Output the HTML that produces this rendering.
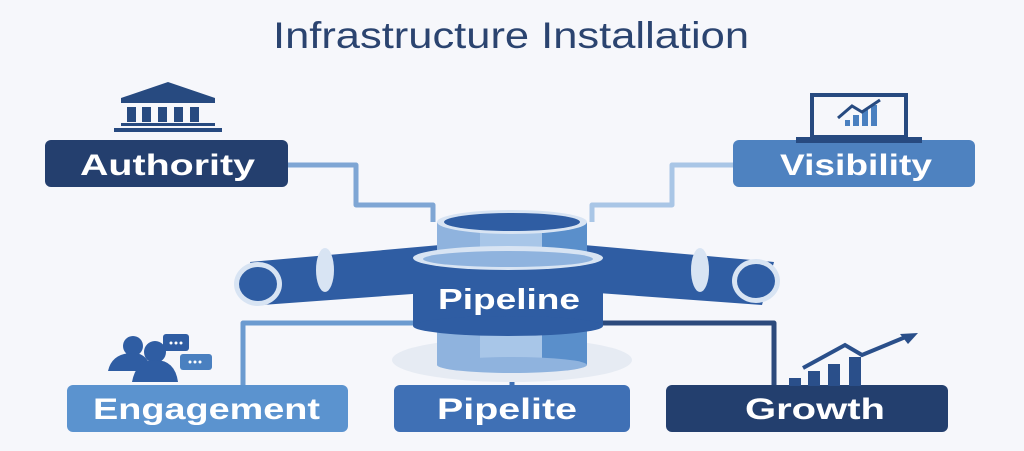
<!DOCTYPE html>
<html><head><style>
body{margin:0;background:#f6f7fb;}
svg{display:block}
text{font-family:"Liberation Sans",sans-serif}
</style></head><body>
<svg width="1024" height="451" viewBox="0 0 1024 451">
<rect width="1024" height="451" fill="#f6f7fb"/>
<text x="273" y="48" font-size="37" fill="#2b4470" textLength="476" lengthAdjust="spacingAndGlyphs">Infrastructure Installation</text>
<g fill="none" stroke-width="5" stroke-linejoin="round">
<path d="M288 165 H356 V205 H433 V222" stroke="#7fa6d4"/>
<path d="M733 165 H672 V205 H592 V222" stroke="#a9c6e6"/>
<path d="M413 323 H243 V388" stroke="#6b9bd0"/>
<path d="M603 323 H774 V388" stroke="#2c4a7c"/>
<path d="M512 360 V388" stroke="#3f70b5"/>
</g>
<ellipse cx="512" cy="360" rx="120" ry="22" fill="#e6ebf3"/>
<path d="M250 262 L440 245 L440 292 L262 305 Z" fill="#2f5da3"/>
<path d="M774 262 L584 245 L584 292 L762 305 Z" fill="#2f5da3"/>
<ellipse cx="325" cy="270" rx="9" ry="22" fill="#d8e4f3"/>
<ellipse cx="700" cy="270" rx="9" ry="22" fill="#d8e4f3"/>
<ellipse cx="258" cy="284" rx="24" ry="22" fill="#d8e4f3"/>
<ellipse cx="258" cy="284" rx="19" ry="17" fill="#2f5da3"/>
<ellipse cx="756" cy="281" rx="24" ry="22" fill="#d8e4f3"/>
<ellipse cx="756" cy="281" rx="19" ry="17" fill="#2f5da3"/>
<rect x="437" y="320" width="150" height="45" fill="#8fb3de"/>
<rect x="480" y="320" width="62" height="45" fill="#a8c6e8"/>
<rect x="542" y="320" width="45" height="45" fill="#5a8fcb"/>
<ellipse cx="512" cy="365" rx="75" ry="8" fill="#8fb3de"/>
<rect x="437" y="222" width="150" height="40" fill="#8fb3de"/>
<rect x="480" y="222" width="62" height="40" fill="#a8c6e8"/>
<rect x="542" y="222" width="45" height="40" fill="#5a8fcb"/>
<ellipse cx="512" cy="222" rx="75" ry="12" fill="#d8e4f3"/>
<ellipse cx="512" cy="222" rx="68" ry="9" fill="#2f5da3"/>
<rect x="413" y="258" width="190" height="68" fill="#2f5da3"/>
<ellipse cx="508" cy="326" rx="95" ry="10" fill="#2f5da3"/>
<ellipse cx="508" cy="258" rx="95" ry="12" fill="#d8e4f3"/>
<ellipse cx="508" cy="259" rx="85" ry="8" fill="#8fb3de"/>
<text x="438" y="309" font-size="29" font-weight="bold" fill="#fff" textLength="142" lengthAdjust="spacingAndGlyphs">Pipeline</text>
<rect x="45" y="140" width="243" height="47" rx="6" fill="#243f6e"/>
<text x="80" y="175" font-size="30" font-weight="bold" fill="#fff" textLength="175" lengthAdjust="spacingAndGlyphs">Authority</text>
<rect x="733" y="140" width="242" height="47" rx="6" fill="#4e82c0"/>
<text x="780" y="175" font-size="30" font-weight="bold" fill="#fff" textLength="152" lengthAdjust="spacingAndGlyphs">Visibility</text>
<rect x="67" y="385" width="281" height="47" rx="6" fill="#5b93cf"/>
<text x="93" y="419" font-size="30" font-weight="bold" fill="#fff" textLength="227" lengthAdjust="spacingAndGlyphs">Engagement</text>
<rect x="394" y="385" width="236" height="47" rx="6" fill="#3f70b5"/>
<text x="437" y="419" font-size="30" font-weight="bold" fill="#fff" textLength="140" lengthAdjust="spacingAndGlyphs">Pipelite</text>
<rect x="666" y="385" width="282" height="47" rx="6" fill="#233f6e"/>
<text x="745" y="419" font-size="30" font-weight="bold" fill="#fff" textLength="140" lengthAdjust="spacingAndGlyphs">Growth</text>
<g fill="#274a80">
<polygon points="168,82 121,98 215,98"/>
<rect x="121" y="98" width="94" height="5"/>
<rect x="127" y="107" width="9" height="15"/><rect x="142" y="107" width="9" height="15"/><rect x="158" y="107" width="9" height="15"/><rect x="174" y="107" width="9" height="15"/><rect x="190" y="107" width="9" height="15"/>
<rect x="121" y="123" width="94" height="3"/><rect x="114" y="128" width="108" height="4"/>
</g>
<rect x="812" y="95" width="94" height="42" fill="none" stroke="#274a80" stroke-width="4"/>
<rect x="796" y="137" width="126" height="6" fill="#274a80"/>
<g fill="#4a80c0"><rect x="845" y="120" width="5" height="6"/><rect x="853" y="115" width="6" height="11"/><rect x="862" y="110" width="6" height="16"/><rect x="871" y="105" width="6" height="21"/></g>
<polyline points="838,118 852,106 862,112 880,100" fill="none" stroke="#274a80" stroke-width="3"/>
<g fill="#2f5da3">
<circle cx="133" cy="346" r="10"/><path d="M108 371 q4-18 25-18 q10 0 15 8 l-8 10z"/>
<circle cx="155" cy="352" r="11"/><path d="M132 382 q4-22 23-22 q20 0 23 22z"/>
<rect x="163" y="334" width="26" height="17" rx="3"/><rect x="180" y="354" width="32" height="16" rx="3" fill="#4a80c0"/>
</g>
<g fill="#fff"><circle cx="171" cy="343" r="1.5"/><circle cx="176" cy="343" r="1.5"/><circle cx="181" cy="343" r="1.5"/><circle cx="190" cy="362" r="1.5"/><circle cx="195" cy="362" r="1.5"/><circle cx="200" cy="362" r="1.5"/></g>
<g fill="#2a4f8a"><rect x="789" y="378" width="12" height="8"/><rect x="808" y="371" width="12" height="15"/><rect x="828" y="364" width="12" height="22"/><rect x="849" y="357" width="12" height="29"/></g>
<polyline points="803,368 845,345 862,355 908,336" fill="none" stroke="#2a4f8a" stroke-width="4"/>
<polygon points="918,333 900,334 908,344" fill="#2a4f8a"/>
</svg>
</body></html>
